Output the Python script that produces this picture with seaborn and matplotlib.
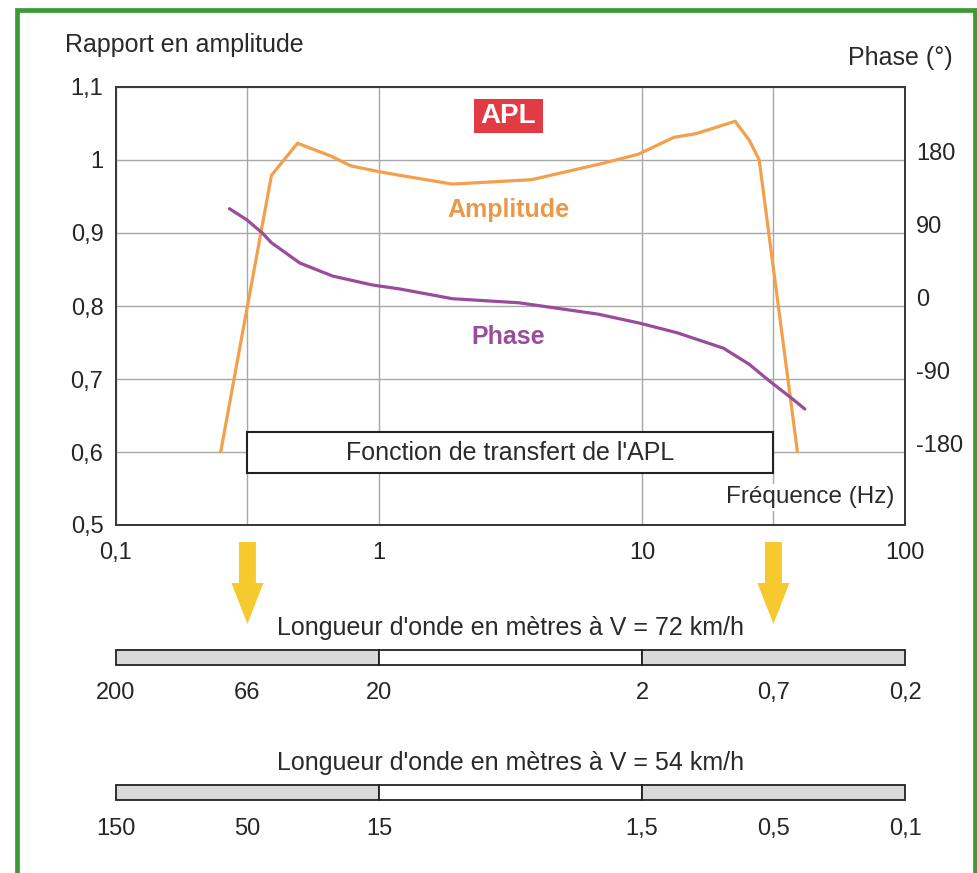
import numpy as np
import matplotlib
matplotlib.use("Agg")
import matplotlib.pyplot as plt
import seaborn as sns
from matplotlib.patches import Rectangle, Polygon
from matplotlib.ticker import FixedLocator, NullFormatter

# ── Data ──
amp_freq  = [0.25, 0.39, 0.49, 0.66, 0.78, 1.0, 1.2, 1.9, 3.8, 7.2, 9.7,
             13.2, 16, 22.6, 25.6, 27.9, 39]
amp_ratio = [0.60, 0.979, 1.023, 1.005, 0.992, 0.984, 0.979, 0.967, 0.973,
             0.996, 1.008, 1.031, 1.036, 1.053, 1.027, 1.0, 0.60]

phase_freq = [0.27, 0.315, 0.36, 0.39, 0.5, 0.665, 0.94, 1.2, 1.9, 3.4, 6.8,
              9.75, 13.6, 20.4, 25.6, 30.4, 37.5, 41.6]
phase_deg  = [120, 106, 90, 78, 53, 37, 26, 21, 9, 4, -10, -21, -33, -52,
              -72, -92, -115, -127]

freq_ticks  = [0.1, 1, 10, 100]
freq_labels = ["0,1", "1", "10", "100"]
band_limits = [0.316, 31.6]          # bornes de l'APL (grille + flèches)
amp_ticks   = [0.5, 0.6, 0.7, 0.8, 0.9, 1.0, 1.1]
amp_labels  = ["0,5", "0,6", "0,7", "0,8", "0,9", "1", "1,1"]
phase_ticks = [-180, -90, 0, 90, 180]

band_edges = [0.1, 1, 10, 100]
wave_freqs = [0.1, 0.316, 1, 10, 31.6, 100]
wave_72 = ["200", "66", "20", "2", "0,7", "0,2"]
wave_54 = ["150", "50", "15", "1,5", "0,5", "0,1"]

# ── Style ──
ORANGE, ORANGE_TXT = "#f2a04c", "#e9994a"
PURPLE = "#9a4c9c"
RED    = "#e23b43"
GRID   = "#a8a8a8"
SPINE  = "#3a3a3a"
GRAY   = "#d9d9d9"
GREEN  = "#3a9b35"
YELLOW = "#f6c92e"

sns.set_theme(style="white")
plt.rcParams["font.family"] = ["Liberation Sans", "DejaVu Sans"]
plt.rcParams["text.color"] = "#2a2a2a"

W, H = 978, 873
fig = plt.figure(figsize=(W / 100, H / 100), dpi=100)
fig.patch.set_facecolor("white")


def frac(x0, y0, x1, y1):
    # pixel box (origin top-left) -> figure fraction
    return [x0 / W, 1 - y1 / H, (x1 - x0) / W, (y1 - y0) / H]


# ── Main chart ──
ax = fig.add_axes(frac(116, 87, 905, 525))
ax.set_xscale("log")
ax.set_xlim(0.1, 100)
ax.set_ylim(0.5, 1.1)
ax.set_axisbelow(True)

sns.lineplot(x=amp_freq, y=amp_ratio, ax=ax, color=ORANGE, lw=2.3,
             estimator=None, sort=False)

ax.set_xticks(freq_ticks, freq_labels)
ax.xaxis.set_minor_locator(FixedLocator(band_limits))
ax.xaxis.set_minor_formatter(NullFormatter())
ax.set_yticks(amp_ticks, amp_labels)
ax.grid(which="both", axis="x", color=GRID, lw=1)
ax.grid(which="major", axis="y", color=GRID, lw=1)
ax.tick_params(axis="x", which="both", length=0, labelsize=17, pad=12)
ax.tick_params(axis="y", length=0, labelsize=17, pad=9)
for s in ax.spines.values():
    s.set_color(SPINE)
    s.set_linewidth(1.4)
ax.set_xlabel("")
ax.set_ylabel("")

ax2 = ax.twinx()
ax2.set_ylim(-270, 270)
sns.lineplot(x=phase_freq, y=phase_deg, ax=ax2, color=PURPLE, lw=2.3,
             estimator=None, sort=False)
ax2.set_yticks(phase_ticks, [str(v) for v in phase_ticks])
ax2.grid(False)
ax2.tick_params(axis="y", length=0, labelsize=17, pad=8)
for lbl in ax2.get_yticklabels():
    lbl.set_va("baseline")
for s in ax2.spines.values():
    s.set_color(SPINE)
    s.set_linewidth(1.4)
ax2.set_ylabel("")

# boîte "Fonction de transfert"
ax.add_patch(Rectangle((band_limits[0], 0.571), band_limits[1] - band_limits[0],
                       0.056, facecolor="white", edgecolor="#222222", lw=1.5,
                       zorder=3))
ax.text(np.sqrt(band_limits[0] * band_limits[1]), 0.599,
        "Fonction de transfert de l'APL", ha="center", va="center",
        fontsize=18, zorder=4)

# étiquette APL
ax.add_patch(Rectangle((0.4537, 0.895), 0.0875, 0.0776, transform=ax.transAxes,
                       facecolor=RED, edgecolor="none", zorder=4))
ax.text(0.4975, 0.934, "APL", transform=ax.transAxes, ha="center",
        va="center", color="white", fontsize=20, fontweight="bold", zorder=5)
ax.text(0.497, 0.72, "Amplitude", transform=ax.transAxes, ha="center",
        va="center", color=ORANGE_TXT, fontsize=18, fontweight="bold")
ax.text(0.497, 0.43, "Phase", transform=ax.transAxes, ha="center",
        va="center", color=PURPLE, fontsize=18, fontweight="bold")
ax.text(0.987, 0.063, "Fréquence (Hz)", transform=ax.transAxes, ha="right",
        va="center", fontsize=17.5, zorder=4,
        bbox=dict(boxstyle="square,pad=0.1", fc="white", ec="none"))

fig.text(65 / W, 1 - 45 / H, "Rapport en amplitude", ha="left", va="center",
         fontsize=18)
fig.text(953 / W, 1 - 58 / H, "Phase (°)", ha="right", va="center",
         fontsize=18)


# ── Wavelength bars ──
def wave_bar(top, title, labels, lpad):
    bx = fig.add_axes(frac(116, top, 905, top + 15))
    bx.set_xscale("log")
    bx.set_xlim(0.1, 100)
    bx.set_ylim(-0.5, 0.5)
    bx.barh(0, np.diff(band_edges), left=band_edges[:-1], height=1,
            color=[GRAY, "white", GRAY], edgecolor="#222222", lw=1.3,
            clip_on=False)
    bx.set_xticks(wave_freqs, labels)
    bx.xaxis.set_minor_locator(FixedLocator([]))
    bx.set_yticks([])
    bx.tick_params(axis="x", length=0, labelsize=17, pad=lpad)
    for s in bx.spines.values():
        s.set_visible(False)
    bx.set_title(title, fontsize=18, pad=11)
    bx.grid(False)
    return bx


wave_bar(650, "Longueur d'onde en mètres à V = 72 km/h", wave_72, 12)
wave_bar(785, "Longueur d'onde en mètres à V = 54 km/h", wave_54, 13)

# ── Overlay: arrows + green frame ──
ov = fig.add_axes([0, 0, 1, 1])
ov.set_xlim(0, W)
ov.set_ylim(H, 0)
ov.axis("off")

for f in band_limits:
    cx = ax.transData.transform((f, 1.0))[0]
    pts = [(cx - 8.5, 542), (cx + 8.5, 542), (cx + 8.5, 583), (cx + 16, 583),
           (cx, 624), (cx - 16, 583), (cx - 8.5, 583)]
    ov.add_patch(Polygon(pts, closed=True, facecolor=YELLOW, edgecolor="none"))

ov.plot([17, 17, 975, 975], [H + 10, 10, 10, H + 10], color=GREEN, lw=3.4,
        solid_joinstyle="miter")

plt.savefig("out.png", dpi=100)
print("Saved -> out.png")
